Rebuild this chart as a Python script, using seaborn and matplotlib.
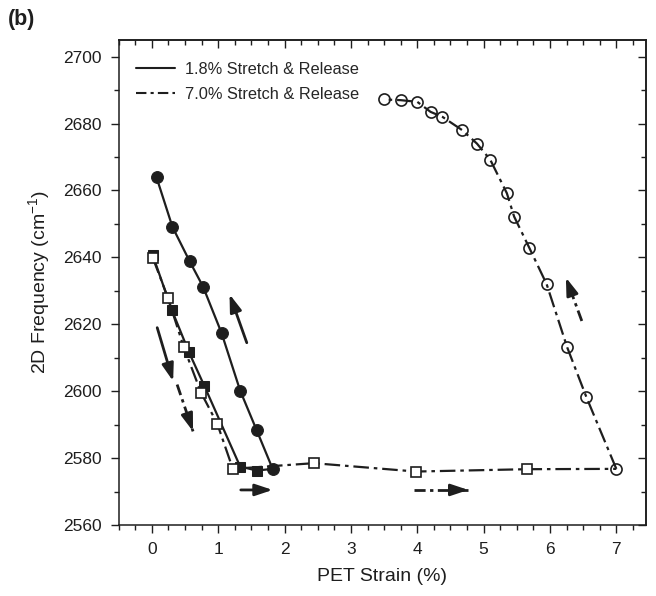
import numpy as np
import matplotlib
matplotlib.use("Agg")
import matplotlib.pyplot as plt
import seaborn as sns
from matplotlib.lines import Line2D
from matplotlib.ticker import MultipleLocator

# === DATA ===
# 1.8% stretch (filled squares) - last point joins the release curve
strain_18_stretch = [0.01, 0.30, 0.56, 0.79, 1.33, 1.58, 1.82]
freq_18_stretch = [2640.8, 2624.3, 2611.6, 2601.6, 2577.5, 2576.3, 2576.8]
# 1.8% release (filled circles)
strain_18_release = [1.82, 1.58, 1.33, 1.05, 0.77, 0.57, 0.31, 0.07]
freq_18_release = [2576.8, 2588.3, 2600.2, 2617.4, 2631.3, 2638.8, 2649.1, 2663.9]
# 7.0% stretch (open squares) - last point joins the release curve
strain_70_stretch = [0.015, 0.24, 0.48, 0.74, 0.985, 1.22, 2.44, 3.98, 5.65, 7.0]
freq_70_stretch = [2639.8, 2628.0, 2613.2, 2599.6, 2590.3, 2576.8, 2578.5, 2576.0, 2576.7, 2576.8]
# 7.0% release (open circles)
strain_70_release = [7.0, 6.55, 6.26, 5.95, 5.69, 5.46, 5.35, 5.10, 4.90, 4.68,
                     4.38, 4.20, 4.00, 3.75, 3.50]
freq_70_release = [2576.8, 2598.2, 2613.1, 2632.0, 2642.8, 2652.2, 2659.2, 2669.2, 2674.0, 2678.0,
                   2682.0, 2683.5, 2686.5, 2687.0, 2687.2]

# direction arrows: (tail_x, tail_y, head_x, head_y, dash-dot shaft?)
arrows = [
    (1.43, 2614.5, 1.17, 2629.0, False),
    (0.08, 2619.0, 0.32, 2603.0, False),
    (0.38, 2602.0, 0.62, 2588.0, True),
    (1.34, 2570.5, 1.82, 2570.5, False),
    (3.95, 2570.5, 4.77, 2570.5, True),
    (6.48, 2621.0, 6.24, 2634.0, True),
]

# === STYLE ===
sns.set_theme(style="ticks")
plt.rcParams["font.family"] = ["Liberation Sans", "DejaVu Sans"]
plt.rcParams["mathtext.default"] = "regular"
ink = "#1e1e1e"
dashdot = (0, (7, 2.2, 1.6, 2.2))

fig = plt.figure(figsize=(6.56, 5.96), dpi=100)
ax = fig.add_axes([0.181, 0.119, 0.804, 0.814])

# 1.8% curves (solid)
sns.lineplot(x=strain_18_stretch, y=freq_18_stretch, sort=False, estimator=None, ax=ax,
             color=ink, lw=1.6, marker="s", markersize=7, markerfacecolor=ink,
             markeredgecolor=ink, markevery=list(range(len(strain_18_stretch) - 1)), zorder=3)
sns.lineplot(x=strain_18_release, y=freq_18_release, sort=False, estimator=None, ax=ax,
             color=ink, lw=1.6, marker="o", markersize=8.5, markerfacecolor=ink,
             markeredgecolor=ink, zorder=4)

# 7.0% curves (dash-dot)
sns.lineplot(x=strain_70_stretch, y=freq_70_stretch, sort=False, estimator=None, ax=ax,
             color=ink, lw=1.6, linestyle=dashdot, marker="s", markersize=7,
             markerfacecolor="white", markeredgecolor=ink, markeredgewidth=1.2,
             markevery=list(range(len(strain_70_stretch) - 1)), zorder=5)
sns.lineplot(x=strain_70_release, y=freq_70_release, sort=False, estimator=None, ax=ax,
             color=ink, lw=1.6, linestyle=dashdot, marker="o", markersize=8,
             markerfacecolor="none", markeredgecolor=ink, markeredgewidth=1.2, zorder=5)

# arrows: shaft drawn as a line, head as a short solid arrow
head_style = "-|>,head_length=0.75,head_width=0.25"
for x0, y0, x1, y1, dd in arrows:
    if dd:
        ax.plot([x0, x1], [y0, y1], color=ink, lw=2.0, linestyle=(0, (4, 1.6, 1.2, 1.6)),
                solid_capstyle="butt", dash_capstyle="butt")
        xs, ys = x1 - 0.3 * (x1 - x0), y1 - 0.3 * (y1 - y0)
    else:
        xs, ys = x0, y0
    ax.annotate("", xy=(x1, y1), xytext=(xs, ys),
                arrowprops=dict(arrowstyle=head_style, color=ink, lw=2.0,
                                shrinkA=0, shrinkB=0, mutation_scale=14))

# === AXES ===
ax.set_xlim(-0.5, 7.45)
ax.set_ylim(2560, 2705)
ax.xaxis.set_major_locator(MultipleLocator(1))
ax.xaxis.set_minor_locator(MultipleLocator(0.25))
ax.yaxis.set_major_locator(MultipleLocator(20))
ax.yaxis.set_minor_locator(MultipleLocator(10))
ax.tick_params(which="both", direction="out", top=False, right=False, colors=ink,
               labelsize=12.5, width=1)
ax.tick_params(which="major", length=6, pad=6)
ax.tick_params(which="minor", length=3.5)
for s in ax.spines.values():
    s.set_linewidth(1.1)
    s.set_color(ink)

# inward ticks on top and right
sec_x = ax.secondary_xaxis("top")
sec_x.xaxis.set_major_locator(MultipleLocator(1))
sec_x.xaxis.set_minor_locator(MultipleLocator(0.25))
sec_x.tick_params(which="both", direction="in", labeltop=False, colors=ink, width=1)
sec_x.tick_params(which="major", length=6)
sec_x.tick_params(which="minor", length=3.5)
sec_y = ax.secondary_yaxis("right")
sec_y.yaxis.set_major_locator(MultipleLocator(20))
sec_y.yaxis.set_minor_locator(MultipleLocator(10))
sec_y.tick_params(which="both", direction="in", labelright=False, colors=ink, width=1)
sec_y.tick_params(which="major", length=6)
sec_y.tick_params(which="minor", length=3.5)

ax.set_xlabel("PET Strain (%)", fontsize=14, color=ink, labelpad=8)
ax.set_ylabel("2D Frequency (cm$^{-1}$)", fontsize=14, color=ink, labelpad=8)

handles = [Line2D([], [], color=ink, lw=1.5, linestyle="-"),
           Line2D([], [], color=ink, lw=1.5, linestyle=(0, (5, 2, 1.5, 2)))]
ax.legend(handles, ["1.8% Stretch & Release", "7.0% Stretch & Release"],
          loc="upper left", bbox_to_anchor=(0.005, 0.985), frameon=False,
          fontsize=11.8, handlelength=2.4, handletextpad=0.6, labelspacing=0.6)

fig.text(0.012, 0.967, "(b)", fontsize=15.5, fontweight="bold", color=ink, va="center")

fig.savefig("out.png", dpi=100)
